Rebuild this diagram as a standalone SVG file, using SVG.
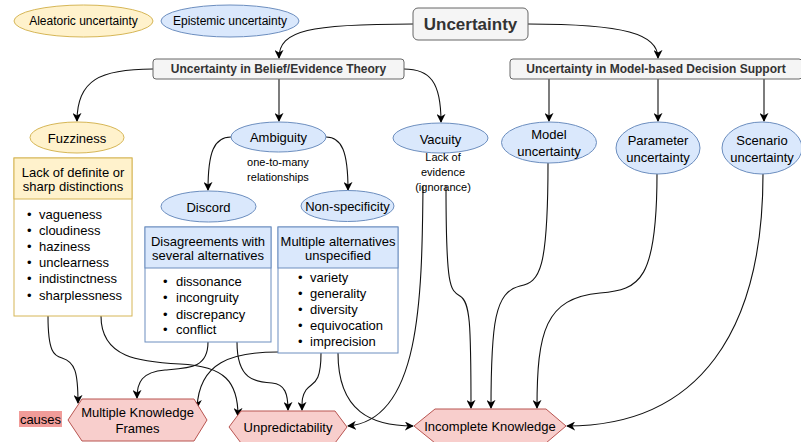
<svg xmlns="http://www.w3.org/2000/svg" width="801" height="442" viewBox="0 0 801 442">
<defs>
<style>
text{font-family:"Liberation Sans",Arial,sans-serif;fill:#000;dominant-baseline:central}
.yel{fill:#fff2cc;stroke:#d6b656;stroke-width:1}
.blu{fill:#dae8fc;stroke:#6c8ebf;stroke-width:1}
.gry{fill:#f5f5f5;stroke:#666;stroke-width:1}
.red{fill:#f8cecc;stroke:#b85450;stroke-width:1}
.wy{fill:#fff;stroke:#d6b656;stroke-width:1}
.wb{fill:#fff;stroke:#6c8ebf;stroke-width:1}
.t12{font-size:12px;text-anchor:middle}
.t13{font-size:13px;text-anchor:middle}
.b{font-weight:bold;fill:#333}
.li{font-size:13px}
.lbl{font-size:11px;text-anchor:middle}
#edges path{fill:none;stroke:#111;stroke-width:1.1;marker-end:url(#arr)}
</style>
<marker id="arr" viewBox="0 0 10 10" refX="9" refY="5" markerWidth="9" markerHeight="9" markerUnits="userSpaceOnUse" orient="auto">
<path d="M0,0 L10,5 L0,10 L3,5 z" fill="#000"/>
</marker>
</defs>
<rect width="801" height="442" fill="#fff"/>

<g id="edges">
<path d="M413,24 C310,24 279,30 279,58"/>
<path d="M528,24 C625,24 658,34 658,58"/>
<path d="M153,69 C100,69 77,80 77,121"/>
<path d="M279,79 L279,121"/>
<path d="M404,69 C430,69 441,82 441,122"/>
<path d="M549,79 L549,121"/>
<path d="M658,79 L658,121"/>
<path d="M764,79 L764,121"/>
<path d="M231,137 C214,137 208,152 208,190"/>
<path d="M326,137 C342,137 348,152 348,190"/>
<path d="M48,316 C48,352 54,356 62,358 C75,362 78,372 78,403"/>
<path d="M101,316 C101,358 140,362 180,364 C225,366 238,382 238,416"/>
<path d="M208,342 C208,368 190,368 165,370 C142,372 137,382 137,398"/>
<path d="M237,342 C237,380 255,382 272,383 C285,384 288,394 288,410"/>
<path d="M321,353 C321,386 312,382 306,390 C302,396 302,400 302,410"/>
<path d="M278,352 C232,352 199,362 197,408"/>
<path d="M338,353 C338,412 372,426 413,426"/>
<path d="M423,186 C422,300 420,420 348,426"/>
<path d="M446,186 C446,288 450,290 460,296 C470,302 471,322 471,408"/>
<path d="M548,163 C548,270 540,282 520,286 C495,292 491,322 491,408"/>
<path d="M657,174 C657,280 640,290 600,293 C545,298 537,332 537,408"/>
<path d="M763,174 C763,330 700,426 567,426"/>
</g>

<g id="aleatoric"><ellipse class="yel" cx="83.5" cy="21" rx="69.5" ry="16"/><text class="t12" x="83.5" y="21">Aleatoric uncertainty</text></g>
<g id="epistemic"><ellipse class="blu" cx="230" cy="21" rx="69" ry="16"/><text class="t12" x="230" y="21">Epistemic uncertainty</text></g>

<g id="uncertainty"><rect class="gry" x="413" y="8" width="115" height="32" rx="5"/><text class="b" x="470.5" y="24" font-size="17" text-anchor="middle">Uncertainty</text></g>
<g id="belief"><rect class="gry" x="153" y="59" width="251" height="20" rx="3"/><text class="b" x="278.5" y="69" font-size="12" text-anchor="middle">Uncertainty in Belief/Evidence Theory</text></g>
<g id="model-based"><rect class="gry" x="510" y="59" width="292" height="20" rx="3"/><text class="b" x="656" y="69" font-size="12" text-anchor="middle">Uncertainty in Model-based Decision Support</text></g>

<g id="fuzziness"><ellipse class="yel" cx="77" cy="137.5" rx="47" ry="15.5"/><text class="t13" x="77" y="138">Fuzziness</text></g>
<g id="ambiguity"><ellipse class="blu" cx="278.5" cy="137" rx="47.5" ry="15"/><text class="t13" x="278.5" y="137">Ambiguity</text>
<text class="lbl" x="278" y="162">one-to-many</text><text class="lbl" x="278" y="177">relationships</text></g>
<g id="vacuity"><ellipse class="blu" cx="440.5" cy="138" rx="47.5" ry="15"/><text class="t13" x="440.5" y="139">Vacuity</text>
<text class="lbl" x="443" y="157">Lack of</text><text class="lbl" x="443" y="172">evidence</text><text class="lbl" x="443" y="187">(ignorance)</text></g>
<g id="model"><ellipse class="blu" cx="549" cy="142.5" rx="47.5" ry="20.5"/><text class="t13" x="549" y="134" font-size="12.5">Model</text><text class="t13" x="549" y="151" font-size="12.5">uncertainty</text></g>
<g id="parameter"><ellipse class="blu" cx="658" cy="148" rx="42" ry="26"/><text class="t13" x="658" y="140" font-size="12.5">Parameter</text><text class="t13" x="658" y="157" font-size="12.5">uncertainty</text></g>
<g id="scenario"><ellipse class="blu" cx="762" cy="148" rx="40" ry="26"/><text class="t13" x="762" y="140" font-size="12.5">Scenario</text><text class="t13" x="762" y="157" font-size="12.5">uncertainty</text></g>

<g id="discord"><ellipse class="blu" cx="208.5" cy="206.5" rx="47.5" ry="15.5"/><text class="t13" x="208.5" y="207">Discord</text></g>
<g id="non-specificity"><ellipse class="blu" cx="347.5" cy="206" rx="46.5" ry="15.5"/><text class="t13" x="347.5" y="206">Non-specificity</text></g>

<g id="fuzzy-box">
<rect class="wy" x="14" y="158" width="118" height="158"/>
<rect class="yel" x="14" y="158" width="118" height="41"/>
<text class="t13" x="73" y="172" font-size="12.5">Lack of definite or</text><text class="t13" x="73" y="186" font-size="12.5">sharp distinctions</text>
<g class="li"><text x="27" y="214">•</text><text x="39" y="214">vagueness</text>
<text x="27" y="230">•</text><text x="39" y="230">cloudiness</text>
<text x="27" y="246">•</text><text x="39" y="246">haziness</text>
<text x="27" y="262.5">•</text><text x="39" y="262.5">unclearness</text>
<text x="27" y="278">•</text><text x="39" y="278">indistinctness</text>
<text x="27" y="295">•</text><text x="39" y="295">sharplessness</text></g>
</g>

<g id="discord-box">
<rect class="wb" x="145" y="227" width="126" height="115"/>
<rect class="blu" x="145" y="227" width="126" height="41"/>
<text class="t13" x="208" y="241" font-size="12.5">Disagreements with</text><text class="t13" x="208" y="255" font-size="12.5">several alternatives</text>
<g class="li"><text x="163" y="281">•</text><text x="176" y="281">dissonance</text>
<text x="163" y="297">•</text><text x="176" y="297">incongruity</text>
<text x="163" y="314">•</text><text x="176" y="314">discrepancy</text>
<text x="163" y="329">•</text><text x="176" y="329">conflict</text></g>
</g>

<g id="nonspec-box">
<rect class="wb" x="278" y="227" width="120" height="126"/>
<rect class="blu" x="278" y="227" width="120" height="41"/>
<text class="t13" x="338" y="241" font-size="12.5">Multiple alternatives</text><text class="t13" x="338" y="255" font-size="12.5">unspecified</text>
<g class="li"><text x="298" y="277">•</text><text x="310" y="277">variety</text>
<text x="298" y="293">•</text><text x="310" y="293">generality</text>
<text x="298" y="309">•</text><text x="310" y="309">diversity</text>
<text x="298" y="325">•</text><text x="310" y="325">equivocation</text>
<text x="298" y="341">•</text><text x="310" y="341">imprecision</text></g>
</g>

<g id="causes"><rect x="19" y="411" width="43" height="16" fill="#f19c99"/><text class="t13" x="40.5" y="419">causes</text></g>
<g id="mkf"><polygon class="red" points="68,420 82,399 194,399 207,420 194,441 82,441"/><text class="t13" x="137.5" y="412">Multiple Knowledge</text><text class="t13" x="137.5" y="428">Frames</text></g>
<g id="unpredictability"><polygon class="red" points="229,427 241,411 335,411 347,427 335,443 241,443"/><text class="t13" x="288" y="427">Unpredictability</text></g>
<g id="incomplete"><polygon class="red" points="414,426 435,409 546,409 566,426 546,443 435,443"/><text class="t13" x="490" y="426">Incomplete Knowledge</text></g>
</svg>
